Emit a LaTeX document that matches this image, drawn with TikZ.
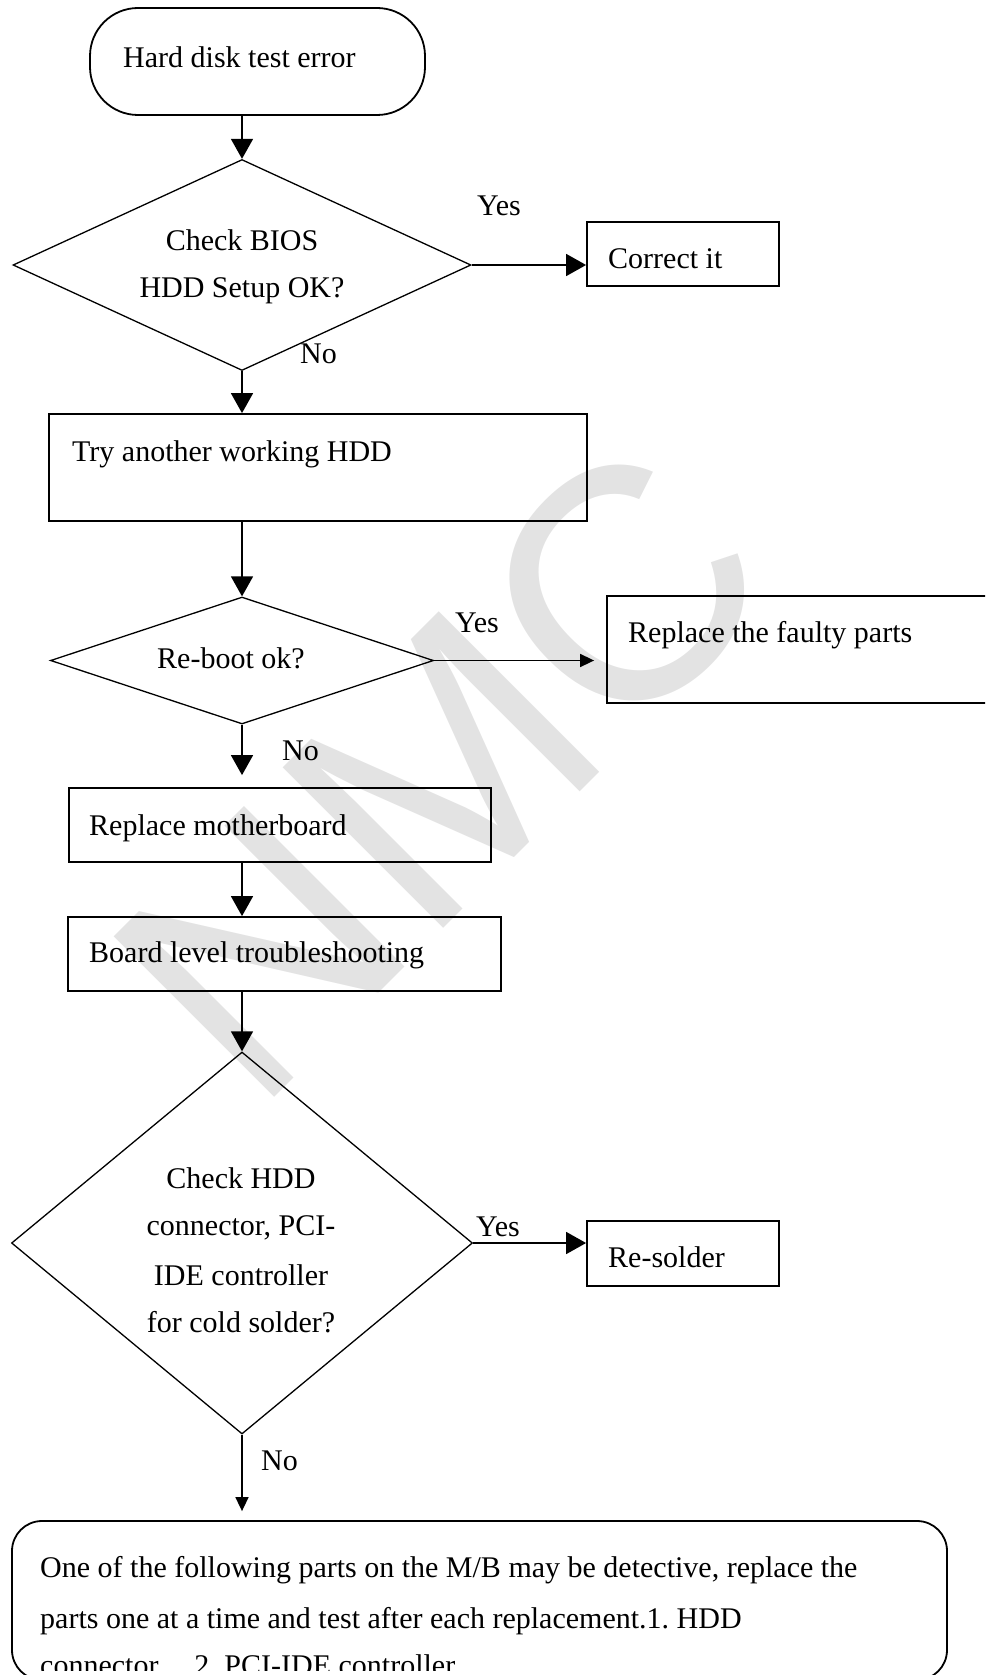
\documentclass[tikz,border=0pt]{standalone}
\usepackage{fontspec}
\setmainfont{Liberation Serif}
\newfontfamily\wmfamily{Liberation Sans}
\usetikzlibrary{shapes.geometric,arrows.meta,calc}
\newcommand\fs{\fontsize{30}{36}\selectfont\frenchspacing}
\newcommand\wmfs{\wmfamily\fontsize{330}{330}\selectfont}
\begin{document}
\begin{tikzpicture}[x=1pt,y=-1pt,
  box/.style={draw, line width=1.8pt, inner sep=0pt, rectangle},
  dia/.style={draw, line width=1.3pt, diamond, inner sep=0pt},
  lbl/.style={inner sep=0pt, anchor=base west, font=\fs},
  clbl/.style={inner sep=0pt, anchor=base, font=\fs},
  conn/.style={line width=1.6pt},
  bighead/.style={conn, -{Triangle[length=20pt,width=22pt]}},
  smallhead/.style={conn, -{Triangle[length=14pt,width=13pt]}},
]
\useasboundingbox (0,0) rectangle (985,1675);
\clip (0,0) rectangle (985,1675);

% watermark
\node[rotate=45, text=black!11, font=\wmfs, inner sep=0pt] (wm) at (441,770) {NMC};

% shapes
\node[box, rounded corners=48pt, minimum width=335pt, minimum height=107pt] (term) at (257.5,61.5) {};
\node[dia, minimum width=458pt, minimum height=211pt] (d1) at (242,265) {};
\node[box, minimum width=192pt, minimum height=64pt] (correct) at (683,254) {};
\node[box, minimum width=538pt, minimum height=107pt] (try) at (318,467.5) {};
\node[dia, minimum width=383pt, minimum height=127pt] (d2) at (242,660.5) {};
\node[box, minimum width=400pt, minimum height=107pt] (faulty) at (807,649.5) {};
\node[box, minimum width=422pt, minimum height=74pt] (mb) at (280,825) {};
\node[box, minimum width=433pt, minimum height=74pt] (board) at (284.5,954) {};
\node[dia, minimum width=461pt, minimum height=382pt] (d3) at (242,1243) {};
\node[box, minimum width=192pt, minimum height=65pt] (resolder) at (683,1253.5) {};
\node[box, rounded corners=30pt, minimum width=935pt, minimum height=159pt] (final) at (479.5,1600.5) {};

% texts
\node[lbl] (tterm) at (123,68) {Hard disk test error};
\node[clbl] (d1a) at (242,250) {Check BIOS};
\node[clbl] (d1b) at (242,297) {HDD Setup OK?};
\node[lbl] (yes1) at (477,215) {Yes};
\node[lbl] (no1) at (300,363) {No};
\node[lbl] (tcorrect) at (608,268) {Correct it};
\node[lbl] (ttry) at (72,461) {Try another working HDD};
\node[lbl] (td2) at (157,668) {Re-boot ok?};
\node[lbl] (yes2) at (455,632) {Yes};
\node[lbl] (tfaulty) at (628,642) {Replace the faulty parts};
\node[lbl] (no2) at (282,760) {No};
\node[lbl] (tmb) at (89,835) {Replace motherboard};
\node[lbl] (tboard) at (89,962) {Board level troubleshooting};
\node[clbl] (d3a) at (241,1188) {Check HDD};
\node[clbl] (d3b) at (241,1235) {connector, PCI-};
\node[clbl] (d3c) at (241,1285) {IDE controller};
\node[clbl] (d3d) at (241,1332) {for cold solder?};
\node[lbl] (yes3) at (476,1236) {Yes};
\node[lbl] (tresolder) at (608,1267) {Re-solder};
\node[lbl] (no3) at (261,1470) {No};
\begin{scope}
\clip (0,1500) rectangle (985,1670);
\node[lbl] (f1) at (40,1577) {One of the following parts on the M/B may be detective, replace the};
\node[lbl] (f2) at (40,1628) {parts one at a time and test after each replacement.1. HDD};
\node[lbl] (f3) at (40,1675) {connector\hspace{36pt}2. PCI-IDE controller};
\end{scope}

% connectors
\draw[bighead] (d1.north |- term.south) -- (d1.north);
\draw[bighead] (d1.east) -- (d1.east -| correct.west);
\draw[bighead] (d1.south) -- (d1.south |- try.north);
\draw[bighead] (d2.north |- try.south) -- (d2.north);
\draw[smallhead, shorten >=12pt] (d2.east) -- (d2.east -| faulty.west);
\draw[bighead, shorten >=12pt] (d2.south) -- (d2.south |- mb.north);
\draw[bighead] (mb.south -| d3.north) -- (board.north -| d3.north);
\draw[bighead] (d3.north |- board.south) -- (d3.north);
\draw[bighead] (d3.east) -- (d3.east -| resolder.west);
\draw[smallhead, shorten >=9pt] (d3.south) -- (d3.south |- final.north);
\end{tikzpicture}
\end{document}
